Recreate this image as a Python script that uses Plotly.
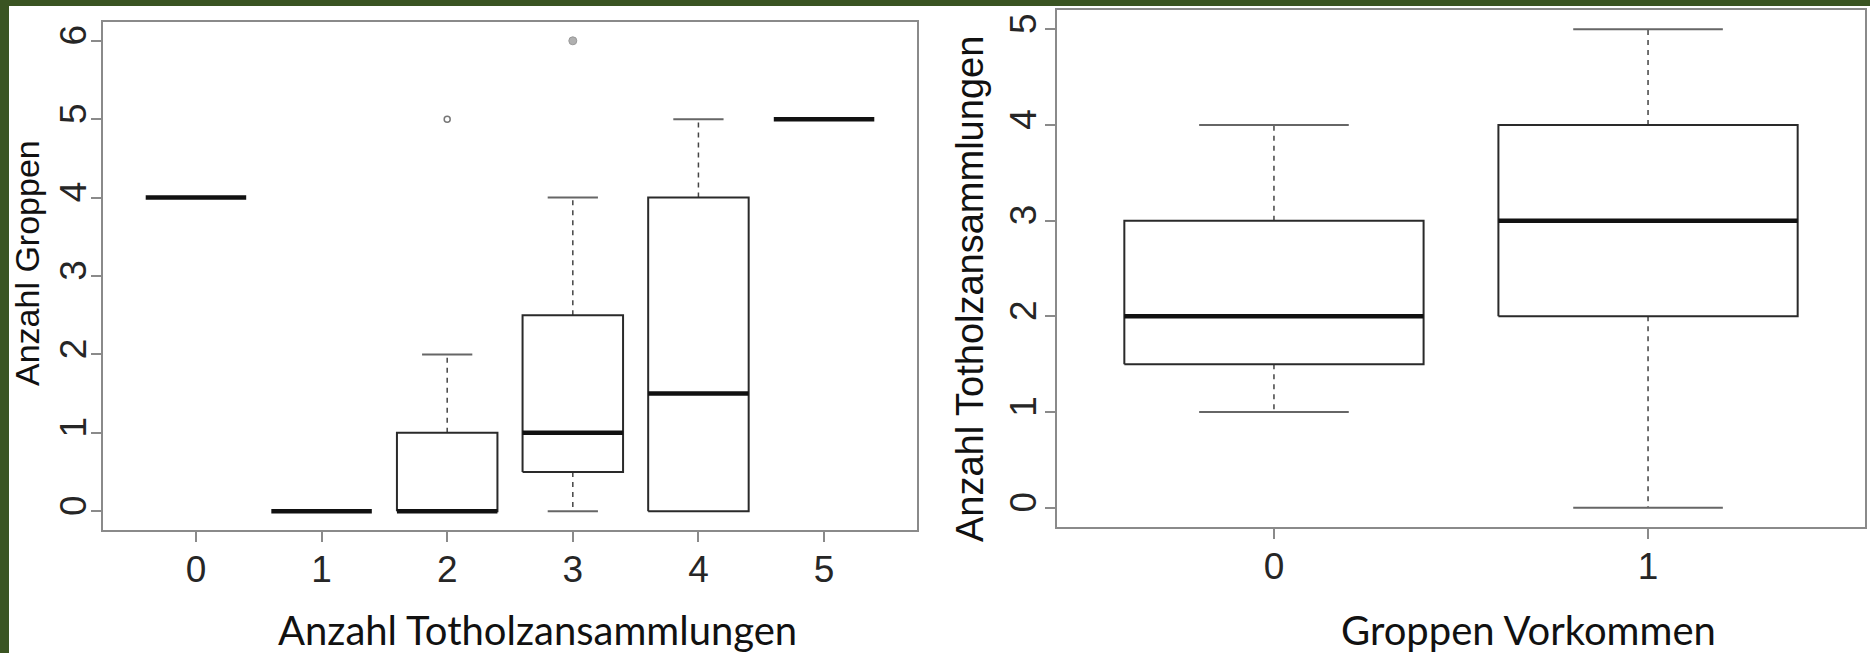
import plotly.graph_objects as go

W, H = 1870, 653

# ---------------- data ----------------
left_cats = [0, 1, 2, 3, 4, 5]
left_tick_labels = ["0", "1", "2", "3", "4", "5"]
left_lower = [4, 0, 0, 0, 0, 5]
left_q1 = [4, 0, 0, 0.5, 0, 5]
left_median = [4, 0, 0, 1, 1.5, 5]
left_q3 = [4, 0, 1, 2.5, 4, 5]
left_upper = [4, 0, 2, 4, 5, 5]
left_out_x_open = [2]
left_out_y_open = [5]
left_out_x_fill = [3]
left_out_y_fill = [6]
left_yticks = [0, 1, 2, 3, 4, 5, 6]

right_cats = [0, 1]
right_tick_labels = ["0", "1"]
right_lower = [1, 0]
right_q1 = [1.5, 2]
right_median = [2, 3]
right_q3 = [3, 4]
right_upper = [4, 5]
right_yticks = [0, 1, 2, 3, 4, 5]

BOX_HALF = 0.4
STAPLE_HALF = 0.2

BOX_COLOR = "#2a2a2a"
STAPLE_COLOR = "#666666"
WHISK_COLOR = "#444444"
FRAME_COLOR = "#8a8a8a"


def box_traces(cats, lo, q1, med, q3, hi, xa, ya):
    bx, by, wx, wy, sx, sy, mx, my = [], [], [], [], [], [], [], []
    for c, l, a, m, b, h in zip(cats, lo, q1, med, q3, hi):
        if b > a:
            bx += [c - BOX_HALF, c + BOX_HALF, c + BOX_HALF, c - BOX_HALF, c - BOX_HALF, None]
            by += [a, a, b, b, a, None]
        if h > b:
            wx += [c, c, None]
            wy += [b, h, None]
            sx += [c - STAPLE_HALF, c + STAPLE_HALF, None]
            sy += [h, h, None]
        if l < a:
            wx += [c, c, None]
            wy += [a, l, None]
            sx += [c - STAPLE_HALF, c + STAPLE_HALF, None]
            sy += [l, l, None]
        mx += [c - BOX_HALF, c + BOX_HALF, None]
        my += [m, m, None]
    common = dict(xaxis=xa, yaxis=ya, mode="lines", hoverinfo="skip", showlegend=False)
    return [
        go.Scatter(x=wx, y=wy, line=dict(color=WHISK_COLOR, width=1.5, dash="5px,5px"), **common),
        go.Scatter(x=sx, y=sy, line=dict(color=STAPLE_COLOR, width=2), **common),
        go.Scatter(x=bx, y=by, line=dict(color=BOX_COLOR, width=2), **common),
        go.Scatter(x=mx, y=my, line=dict(color="#111111", width=4.5), **common),
    ]


fig = go.Figure()
for t in box_traces(left_cats, left_lower, left_q1, left_median, left_q3, left_upper, "x", "y"):
    fig.add_trace(t)
for t in box_traces(right_cats, right_lower, right_q1, right_median, right_q3, right_upper, "x2", "y2"):
    fig.add_trace(t)

fig.add_trace(go.Scatter(x=left_out_x_open, y=left_out_y_open, xaxis="x", yaxis="y", mode="markers",
                         marker=dict(symbol="circle-open", size=6, color="#777777", line=dict(width=1.5)),
                         hoverinfo="skip", showlegend=False))
fig.add_trace(go.Scatter(x=left_out_x_fill, y=left_out_y_fill, xaxis="x", yaxis="y", mode="markers",
                         marker=dict(symbol="circle", size=8, color="#b0b0b0", line=dict(width=1, color="#999999")),
                         hoverinfo="skip", showlegend=False))

tick_font = dict(family="Liberation Sans, Arial, sans-serif", size=37, color="#262626")
axis_common = dict(showgrid=False, zeroline=False, showline=True, mirror=True,
                   linecolor=FRAME_COLOR, linewidth=2, ticks="outside", ticklen=10,
                   tickwidth=2, tickcolor=FRAME_COLOR, tickfont=tick_font, fixedrange=True)

fig.update_layout(
    width=W, height=H, autosize=False,
    margin=dict(l=0, r=0, t=0, b=0),
    paper_bgcolor="white", plot_bgcolor="white",
    xaxis=dict(domain=[103 / W, 917 / W], range=[-0.74, 5.74], tickvals=left_cats,
               ticktext=left_tick_labels, anchor="y", ticklabelstandoff=-4, **axis_common),
    yaxis=dict(domain=[(H - 530) / H, (H - 22) / H], range=[-0.24, 6.24], tickvals=left_yticks,
               ticktext=[str(v) for v in left_yticks], tickangle=-90, anchor="x",
               ticklabelstandoff=-10, automargin=False, **axis_common),
    xaxis2=dict(domain=[1057 / W, 1865 / W], range=[-0.58, 1.58], tickvals=right_cats,
                ticktext=right_tick_labels, anchor="y2", ticklabelstandoff=-4, **axis_common),
    yaxis2=dict(domain=[(H - 527) / H, (H - 10) / H], range=[-0.2, 5.2], tickvals=right_yticks,
                ticktext=[str(v) for v in right_yticks], tickangle=-90, anchor="x2",
                ticklabelstandoff=-6, automargin=False, **axis_common),
    shapes=[
        dict(type="rect", xref="paper", yref="paper", x0=0, x1=1, y0=1 - 6 / H, y1=1,
             fillcolor="#3A5422", line=dict(width=0)),
        dict(type="rect", xref="paper", yref="paper", x0=0, x1=9 / W, y0=0, y1=1,
             fillcolor="#3A5422", line=dict(width=0)),
    ],
)

ytitle_font_l = dict(family="Liberation Sans, Arial, sans-serif", size=34, color="#111111")
ytitle_font_r = dict(family="Liberation Sans, Arial, sans-serif", size=38, color="#111111")
xtitle_font = dict(family="Lato, Open Sans, sans-serif", size=40, color="#111111")

fig.add_annotation(text="Anzahl Groppen", xref="paper", yref="paper", x=27 / W, y=1 - 263 / H,
                   textangle=-90, showarrow=False, font=ytitle_font_l, xanchor="center", yanchor="middle")
fig.add_annotation(text="Anzahl Totholzansammlungen", xref="paper", yref="paper", x=970 / W, y=1 - 289 / H,
                   textangle=-90, showarrow=False, font=ytitle_font_r, xanchor="center", yanchor="middle")
fig.add_annotation(text="Anzahl Totholzansammlungen", xref="paper", yref="paper", x=537 / W, y=1 - 630 / H,
                   showarrow=False, font=xtitle_font, xanchor="center", yanchor="middle")
fig.add_annotation(text="Groppen Vorkommen", xref="paper", yref="paper", x=1528 / W, y=1 - 630 / H,
                   showarrow=False, font=xtitle_font, xanchor="center", yanchor="middle")

fig.write_html("out.html")
